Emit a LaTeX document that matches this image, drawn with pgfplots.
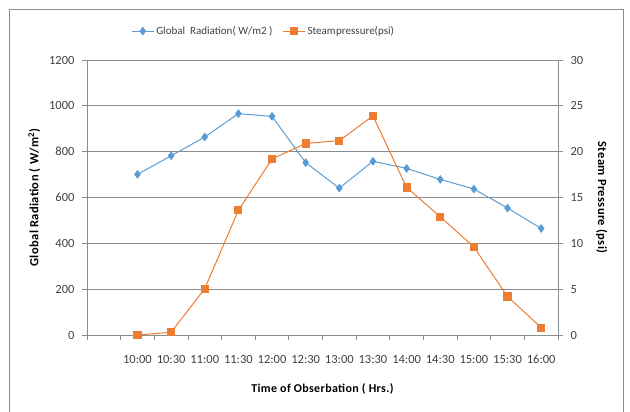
\documentclass[border=0pt]{standalone}
\usepackage{fontspec}
\setmainfont{Carlito}
\newfontfamily\labelfont[LetterSpace=3]{Carlito}
\usepackage{pgfplots}
\pgfplotsset{compat=1.18}
\definecolor{radblue}{HTML}{5B9BD5}
\definecolor{steamorange}{HTML}{ED7D31}
\definecolor{gridgray}{HTML}{8C8C8C}
\definecolor{txt}{HTML}{404040}

\begin{document}
\begin{tikzpicture}[x=1pt,y=1pt]
\useasboundingbox (0,0) rectangle (630,412);
% chart frame (open at the bottom)
\draw[gridgray,line width=0.8pt] (9,0) -- (9,403) -- (623,403) -- (623,0);

\pgfplotsset{
  common/.style={
    scale only axis, width=471pt, height=275pt,
    at={(87pt,77pt)}, anchor=south west,
    xmin=-0.5, xmax=13.5,
    ymin=0,
    /pgf/number format/assume math mode=true,
    /pgf/number format/1000 sep={},
    tick label style={font=\fontsize{12.5}{14}\selectfont, text=txt},
    axis line style={gridgray, line width=0.8pt},
    every tick/.style={gridgray, line width=0.8pt},
    tick align=outside,
    major tick length=5pt,
  }
}

% left axis: global radiation
\begin{axis}[common,
  axis x line*=bottom, axis y line*=left,
  ymax=1200, ytick={0,200,...,1200},
  ymajorgrids, grid style={gridgray, line width=0.8pt},
  xtick={-0.5,0.5,...,13.5},
  xticklabels={},
  extra x ticks={1,...,13},
  extra x tick labels={10:00,10:30,11:00,11:30,12:00,12:30,13:00,13:30,14:00,14:30,15:00,15:30,16:00},
  extra x tick style={tick style={draw=none}, xticklabel style={yshift=-12pt}},
  yticklabel style={xshift=-4pt},
  xlabel={\labelfont\bfseries Time of Obserbation ( Hrs.)},
  xlabel style={font=\fontsize{12}{14}\selectfont, text=black, yshift=-8pt},
  ylabel={\labelfont\bfseries Global Radiation ( W/m$^{\mathbf{2}}$)},
  ylabel style={font=\fontsize{12.5}{14}\selectfont, text=black, yshift=2pt},
  legend columns=2,
  legend style={at={(0.375,1.105)}, anchor=center, draw=none,
    font=\fontsize{11}{13}\selectfont, text=txt,
    /tikz/every even column/.append style={column sep=8pt}},
  legend image code/.code={
    \draw[#1] (0pt,0pt) -- (22pt,0pt);
    \draw[#1, only marks] plot coordinates {(11pt,0pt)};
  },
]
\addplot[radblue, line width=1pt, mark=diamond*, mark size=3.6pt,
  mark options={fill=radblue, draw=radblue}]
  coordinates {
  (1,701) (2,782) (3,864) (4,966) (5,954) (6,752) (7,641)
  (8,758) (9,727) (10,679) (11,637) (12,554) (13,465)
  };
\addlegendentry{Global\ \ Radiation( W/m2 )}
\addlegendimage{steamorange, line width=1pt, mark=square*, mark size=3.6pt,
  mark options={fill=steamorange, draw=steamorange}}
\addlegendentry{Steam\hspace{0.5pt}pressure(psi)}
\end{axis}

% right axis: steam pressure
\begin{axis}[common,
  axis x line=none, axis y line*=right,
  ymax=30, ytick={0,5,...,30},
  yticklabel style={xshift=4pt},
  ylabel={\labelfont\bfseries Steam Pressure (psi)},
  ylabel style={font=\fontsize{12.5}{14}\selectfont, text=black, rotate=180, yshift=6pt},
]
\addplot[steamorange, line width=1pt, mark=square*, mark size=3.6pt,
  mark options={fill=steamorange, draw=steamorange}]
  coordinates {
  (1,0) (2,0.3) (3,5.05) (4,13.6) (5,19.2) (6,20.9) (7,21.2)
  (8,23.9) (9,16.1) (10,12.9) (11,9.6) (12,4.2) (13,0.8)
  };
\end{axis}
\end{tikzpicture}
\end{document}
